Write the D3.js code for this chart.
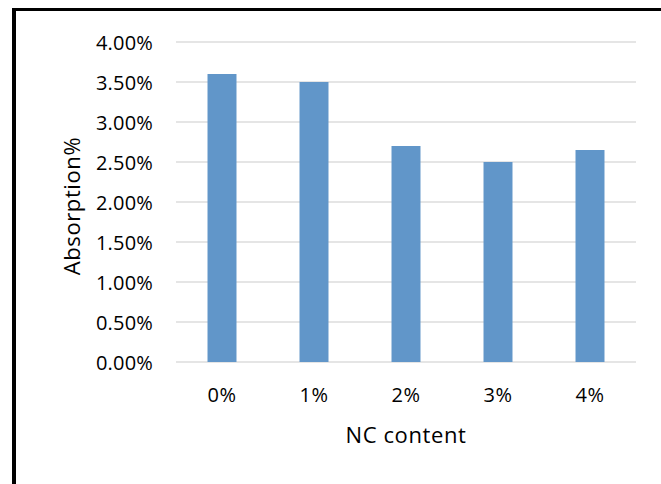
<!DOCTYPE html>
<html>
<head>
<meta charset="utf-8">
<script src="https://cdn.jsdelivr.net/npm/d3@7"></script>
<style>
  html, body { margin: 0; padding: 0; background: #fff; }
  svg { display: block; }
  text { font-family: "Open Sans", "Noto Sans", sans-serif; fill: #000; }
</style>
</head>
<body>
<svg id="chart" width="661" height="484"></svg>
<script>
const categories = ["0%", "1%", "2%", "3%", "4%"];
const absorption = [0.036, 0.035, 0.027, 0.025, 0.0265];
const yTicks = [0, 0.005, 0.01, 0.015, 0.02, 0.025, 0.03, 0.035, 0.04];
const yTitle = "Absorption%";
const xTitle = "NC content";

const svg = d3.select("#chart");
const W = 661, H = 484;
const plot = { left: 176, right: 636, top: 42, bottom: 362 };

// frame (black border lines on top and left)
svg.append("rect").attr("x", 12).attr("y", 8).attr("width", W - 12).attr("height", 3).attr("fill", "#000");
svg.append("rect").attr("x", 12).attr("y", 8).attr("width", 4).attr("height", H - 8).attr("fill", "#000");

const x = d3.scaleBand().domain(categories).range([plot.left, plot.right]).paddingInner(0.685).paddingOuter(0.3425);
const y = d3.scaleLinear().domain([0, 0.04]).range([plot.bottom, plot.top]);

// gridlines
svg.append("g").selectAll("line").data(yTicks).join("line")
  .attr("x1", plot.left).attr("x2", plot.right)
  .attr("y1", d => y(d)).attr("y2", d => y(d))
  .attr("stroke", "#dcdcdc").attr("stroke-width", 1.6);

// bars
svg.append("g").selectAll("rect").data(absorption).join("rect")
  .attr("x", (d, i) => x(categories[i]))
  .attr("width", x.bandwidth())
  .attr("y", d => y(d))
  .attr("height", d => y(0) - y(d))
  .attr("fill", "#6196c9");

// y axis labels
const yAxis = d3.axisLeft(y).tickValues(yTicks).tickFormat(d3.format(".2%")).tickSize(0).tickPadding(23);
const gy = svg.append("g").attr("transform", `translate(${plot.left},0)`).call(yAxis);
gy.select(".domain").remove();
gy.selectAll("text").attr("font-size", 20).attr("letter-spacing", "0.2px")
  .attr("font-family", '"Open Sans", sans-serif').attr("fill", "#000").attr("dy", "0.36em");

// x axis labels
const xAxis = d3.axisBottom(x).tickSize(0).tickPadding(26);
const gx = svg.append("g").attr("transform", `translate(0,${plot.bottom})`).call(xAxis);
gx.select(".domain").remove();
gx.selectAll("text").attr("font-size", 20).attr("letter-spacing", "0.6px")
  .attr("font-family", '"Open Sans", sans-serif').attr("fill", "#000");

// axis titles
svg.append("text").attr("x", (plot.left + plot.right) / 2).attr("y", 443)
  .attr("text-anchor", "middle").attr("font-size", 22).attr("letter-spacing", "0.6px").text(xTitle);
svg.append("text").attr("transform", `translate(80,${(plot.top + plot.bottom) / 2 + 4}) rotate(-90)`)
  .attr("text-anchor", "middle").attr("font-size", 22).attr("letter-spacing", "0.6px").text(yTitle);
</script>
</body>
</html>
